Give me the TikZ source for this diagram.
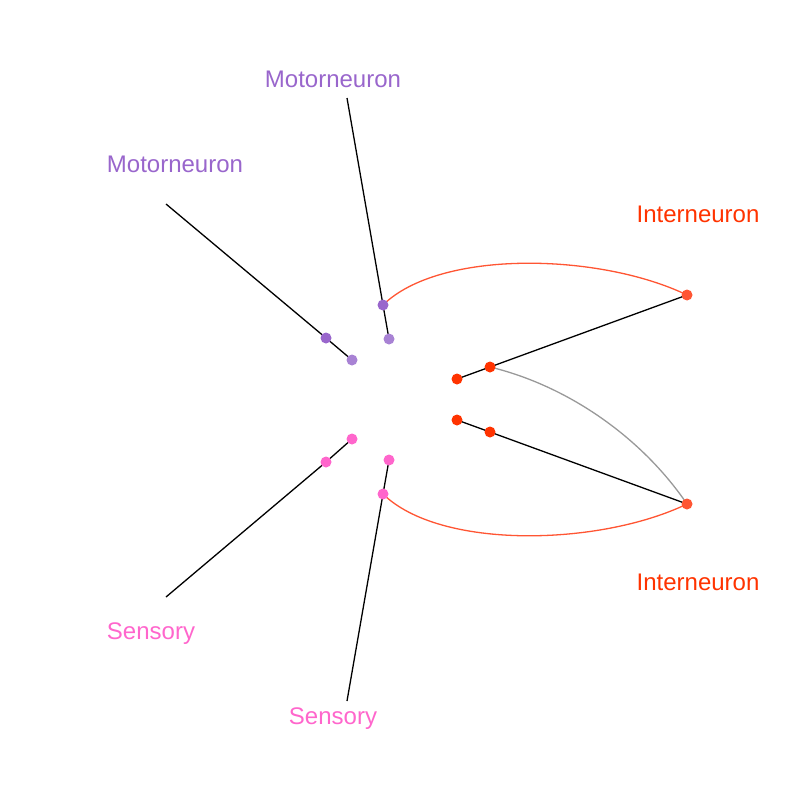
\documentclass[tikz,border=0pt]{standalone}
\usepackage{fontspec}
\setmainfont{Liberation Sans}
\definecolor{mpurple}{HTML}{9966CC}
\definecolor{lpurple}{HTML}{A882D4}
\definecolor{mpink}{HTML}{FF66CC}
\definecolor{mred}{HTML}{FF3300}
\definecolor{mtomato}{HTML}{FF5533}
\definecolor{mgray}{HTML}{999999}
\begin{document}
\begin{tikzpicture}[x=1pt,y=-1pt,
  lbl/.style={font=\fontsize{24}{28}\selectfont, inner sep=0pt},
  dot/.style={circle, inner sep=0pt, minimum size=11pt, fill=#1},
  wire/.style={black, line width=1.3pt},
  arc/.style={mtomato, line width=1.3pt},
  garc/.style={mgray, line width=1.3pt}]
\useasboundingbox (0,0) rectangle (800,800);
% labels
\node[lbl, text=mpurple] (lm1) at (333,79) {Motorneuron};
\node[lbl, text=mpurple] (lm2) at (175,164) {Motorneuron};
\node[lbl, text=mpink] (ls1) at (151,634) {Sensory};
\node[lbl, text=mpink] (ls2) at (333,719) {Sensory};
\node[lbl, text=mred] (li1) at (698,214) {Interneuron};
\node[lbl, text=mred] (li2) at (698,582) {Interneuron};
% free ends of wires
\coordinate (e1) at (347,98);
\coordinate (e2) at (166,204);
\coordinate (e3) at (166,597);
\coordinate (e4) at (347,701);
% dots
\coordinate (m1a) at (383,305); \coordinate (m1b) at (389,339);
\coordinate (m2a) at (326,338); \coordinate (m2b) at (352,360);
\coordinate (s1a) at (326,462); \coordinate (s1b) at (352,439);
\coordinate (s2a) at (383,494); \coordinate (s2b) at (389,460);
\coordinate (i1o) at (687,295); \coordinate (i1a) at (490,367); \coordinate (i1b) at (457,379);
\coordinate (i2o) at (687,504); \coordinate (i2a) at (490,432); \coordinate (i2b) at (457,420);
% wires
\draw[wire] (e1) -- (m1a) -- (m1b);
\draw[wire] (e2) -- (m2a) -- (m2b);
\draw[wire] (e3) -- (s1a) -- (s1b);
\draw[wire] (e4) -- (s2a) -- (s2b);
\draw[wire] (i1o) -- (i1a) -- (i1b);
\draw[wire] (i2o) -- (i2a) -- (i2b);
% arcs
\draw[arc] (m1a) .. controls (440,249) and (600,253) .. (i1o);
\draw[arc] (s2a) .. controls (440,550) and (600,546) .. (i2o);
\draw[garc] (i1a) .. controls (565,385) and (640,435) .. (i2o);
% dot nodes
\node[dot=mpurple] (d1) at (m1a) {};
\node[dot=lpurple] (d2) at (m1b) {};
\node[dot=mpurple] (d3) at (m2a) {};
\node[dot=lpurple] (d4) at (m2b) {};
\node[dot=mpink] (d5) at (s1a) {};
\node[dot=mpink] (d6) at (s1b) {};
\node[dot=mpink] (d7) at (s2a) {};
\node[dot=mpink] (d8) at (s2b) {};
\node[dot=mtomato] (d9) at (i1o) {};
\node[dot=mred] (d10) at (i1a) {};
\node[dot=mred] (d11) at (i1b) {};
\node[dot=mtomato] (d12) at (i2o) {};
\node[dot=mred] (d13) at (i2a) {};
\node[dot=mred] (d14) at (i2b) {};
\end{tikzpicture}
\end{document}
